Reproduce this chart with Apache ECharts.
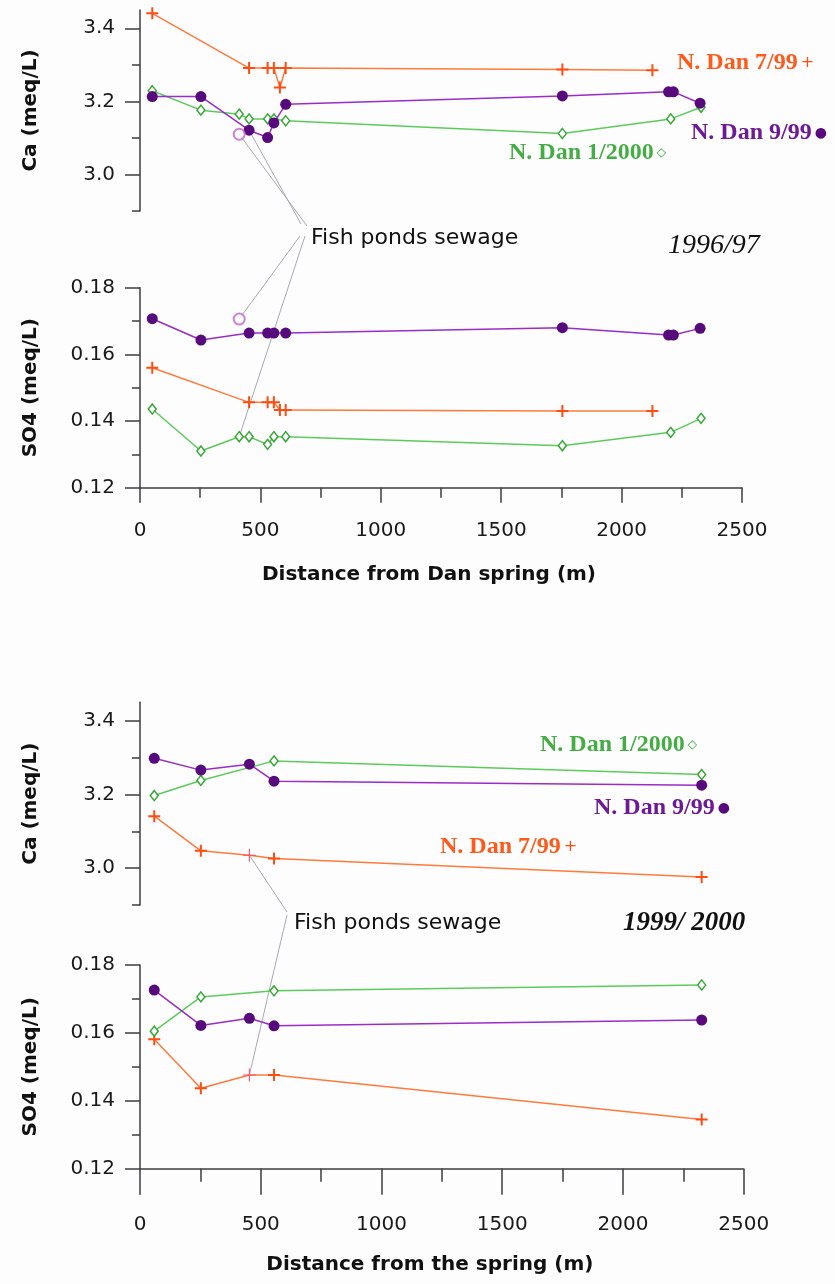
<!DOCTYPE html>
<html>
<head>
<meta charset="utf-8">
<script src="https://cdn.jsdelivr.net/npm/echarts@6/dist/echarts.min.js"></script>
<style>
  html, body { margin: 0; padding: 0; background: #fdfdfd; }
  #chart { width: 835px; height: 1284px; }
</style>
</head>
<body>
<div id="chart"></div>
<script>
// ---- 1996/97 survey (distance from Dan spring, m) ----
const dist97Jul = [51, 453, 530, 556, 581, 605, 1754, 2128];
const ca97Jul   = [3.441, 3.291, 3.291, 3.291, 3.238, 3.291, 3.287, 3.285];
const so97Jul   = [0.156, 0.1456, 0.1456, 0.1456, 0.1433, 0.1433, 0.143, 0.143];

const dist97Sep = [51, 253, 453, 530, 556, 605, 1754, 2195, 2215, 2326];
const ca97Sep   = [3.213, 3.213, 3.121, 3.101, 3.141, 3.192, 3.215, 3.226, 3.226, 3.195];
const so97Sep   = [0.1707, 0.1643, 0.1664, 0.1664, 0.1664, 0.1664, 0.168, 0.1658, 0.1658, 0.1678];

const dist97Jan = [51, 253, 412, 453, 530, 556, 605, 1754, 2204, 2330];
const ca97Jan   = [3.229, 3.176, 3.165, 3.152, 3.152, 3.152, 3.147, 3.112, 3.152, 3.184];
const so97Jan   = [0.1436, 0.131, 0.1353, 0.1353, 0.133, 0.1353, 0.1353, 0.1326, 0.1366, 0.1408];

// fish ponds sewage sample, 1996/97
const distPond97 = [412];
const caPond97   = [3.110];
const soPond97   = [0.1706];

// ---- 1999/2000 survey (distance from the spring, m) ----
const dist00Jul = [59, 252, 453, 555, 2326];
const ca00Jul   = [3.141, 3.047, 3.035, 3.026, 2.976];
const so00Jul   = [0.1581, 0.1437, 0.1476, 0.1476, 0.1345];
const pondIdx00 = [2]; // sewage sample inside the 7/99 profile

const dist00Sep = [59, 252, 453, 555, 2326];
const ca00Sep   = [3.298, 3.266, 3.282, 3.236, 3.225];
const so00Sep   = [0.1726, 0.1622, 0.1643, 0.1621, 0.1638];

const dist00Jan = [59, 252, 555, 2326];
const ca00Jan   = [3.197, 3.238, 3.291, 3.254];
const so00Jan   = [0.1605, 0.1706, 0.1724, 0.1741];

// axis ticks
const caMajor = [3.0, 3.2, 3.4];
const caMinor = [2.9, 3.1, 3.3];

// ---- styling ----
const SANS = 'DejaVu Sans';
const SERIF = 'Liberation Serif';
const AXIS = '#3c3c40';
const C_OR_LINE = '#ff7a3c', C_OR = '#ff4d12', C_OR_TXT = '#ff5a1c';
const C_PU_LINE = '#9a2cc8', C_PU = '#560a7c', C_PU_TXT = '#6e1a96';
const C_GR_LINE = '#5ccb5c', C_GR = '#38a838', C_GR_TXT = '#44ad44';
const PLUS = 'path://M-1,-6L1,-6L1,-1L6,-1L6,1L1,1L1,6L-1,6L-1,1L-6,1L-6,-1L-1,-1Z';
const PLUS_THIN = 'path://M-0.5,-6L0.5,-6L0.5,-0.5L6,-0.5L6,0.5L0.5,0.5L0.5,6L-0.5,6L-0.5,0.5L-6,0.5L-6,-0.5L-0.5,-0.5Z';

const zip = (xs, ys) => xs.map((x, i) => [x, ys[i]]);

const grids = [
  { left: 140, top: 10, width: 602, height: 201 },
  { left: 140, top: 287.7, width: 602, height: 200 },
  { left: 140, top: 702.3, width: 603.7, height: 202.7 },
  { left: 140, top: 965, width: 603.7, height: 203.7 }
];

function distAxis(gridIndex, show, name, majorLen, minorLen, labelMargin, nameGap) {
  return {
    type: 'value', gridIndex, min: 0, max: 2500, interval: 500, show,
    name, nameLocation: 'middle', nameGap,
    nameTextStyle: { fontFamily: SANS, fontWeight: 'bold', fontSize: 20, color: '#111', padding: [0, 24, 0, 0] },
    axisLine: { show: true, lineStyle: { color: AXIS, width: 1.5 } },
    axisTick: { show: true, length: majorLen, lineStyle: { color: AXIS, width: 1.5 } },
    minorTick: { show: true, splitNumber: 2, length: minorLen, lineStyle: { color: AXIS, width: 1.5 } },
    axisLabel: { formatter: v => String(v), fontFamily: SANS, fontSize: 20, color: '#1a1a1a', margin: labelMargin },
    splitLine: { show: false }
  };
}

function caAxes(gridIndex) {
  return [
    {
      type: 'value', gridIndex, position: 'left', min: 2.9, max: 3.45,
      name: 'Ca (meq/L)', nameLocation: 'middle', nameGap: 99,
      nameTextStyle: { fontFamily: SANS, fontWeight: 'bold', fontSize: 20, color: '#111' },
      axisLine: { show: true, lineStyle: { color: AXIS, width: 1.5 } },
      axisTick: { show: true, length: 15, customValues: caMajor, lineStyle: { color: AXIS, width: 1.5 } },
      axisLabel: { customValues: caMajor, formatter: v => v.toFixed(1), fontFamily: SANS, fontSize: 20, color: '#1a1a1a', margin: 25 },
      splitLine: { show: false }
    },
    {
      type: 'value', gridIndex, position: 'left', offset: 0, min: 2.9, max: 3.45,
      axisLine: { show: false },
      axisTick: { show: true, length: 8, customValues: caMinor, lineStyle: { color: AXIS, width: 1.5 } },
      axisLabel: { show: false },
      splitLine: { show: false }
    }
  ];
}

function so4Axis(gridIndex) {
  return {
    type: 'value', gridIndex, position: 'left', min: 0.12, max: 0.18, interval: 0.02,
    name: 'SO4 (meq/L)', nameLocation: 'middle', nameGap: 99,
    nameTextStyle: { fontFamily: SANS, fontWeight: 'bold', fontSize: 20, color: '#111' },
    axisLine: { show: true, lineStyle: { color: AXIS, width: 1.5 } },
    axisTick: { show: true, length: 15, lineStyle: { color: AXIS, width: 1.5 } },
    minorTick: { show: true, splitNumber: 2, length: 8, lineStyle: { color: AXIS, width: 1.5 } },
    axisLabel: { formatter: v => v.toFixed(2), fontFamily: SANS, fontSize: 20, color: '#1a1a1a', margin: 25 },
    splitLine: { show: false }
  };
}

function orange(xi, yi, data) {
  return { type: 'line', xAxisIndex: xi, yAxisIndex: yi, data, symbol: PLUS, symbolSize: 12,
    lineStyle: { color: C_OR_LINE, width: 1.5 }, itemStyle: { color: C_OR }, z: 3, animation: false };
}
function purple(xi, yi, data) {
  return { type: 'line', xAxisIndex: xi, yAxisIndex: yi, data, symbol: 'circle', symbolSize: 11,
    lineStyle: { color: C_PU_LINE, width: 1.5 }, itemStyle: { color: C_PU }, z: 4, animation: false };
}
function green(xi, yi, data) {
  return { type: 'line', xAxisIndex: xi, yAxisIndex: yi, data, symbol: 'diamond', symbolSize: [8, 10],
    lineStyle: { color: C_GR_LINE, width: 1.5 },
    itemStyle: { color: '#ffffff', borderColor: C_GR, borderWidth: 1.5 }, z: 3, animation: false };
}
function pond(xi, yi, data) {
  return { type: 'scatter', xAxisIndex: xi, yAxisIndex: yi, data, symbol: 'emptyCircle', symbolSize: 11,
    itemStyle: { color: '#c462cc', borderWidth: 1 }, z: 5, animation: false };
}

// 7/99 profile of 1999/2000 with the sewage sample drawn as a thin mark
function jul00(values) {
  return dist00Jul.map((x, i) => pondIdx00.includes(i)
    ? { value: [x, values[i]], symbol: PLUS_THIN, symbolSize: 13, itemStyle: { color: '#ff4f6a' } }
    : [x, values[i]]);
}

const series = [
  orange(0, 0, zip(dist97Jul, ca97Jul)),      // 0
  purple(0, 0, zip(dist97Sep, ca97Sep)),      // 1
  green(0, 0, zip(dist97Jan, ca97Jan)),       // 2
  pond(0, 0, zip(distPond97, caPond97)),      // 3
  orange(1, 2, zip(dist97Jul, so97Jul)),      // 4
  purple(1, 2, zip(dist97Sep, so97Sep)),      // 5
  green(1, 2, zip(dist97Jan, so97Jan)),       // 6
  pond(1, 2, zip(distPond97, soPond97)),      // 7
  orange(2, 3, jul00(ca00Jul)),               // 8
  purple(2, 3, zip(dist00Sep, ca00Sep)),      // 9
  green(2, 3, zip(dist00Jan, ca00Jan)),       // 10
  orange(3, 5, jul00(so00Jul)),               // 11
  purple(3, 5, zip(dist00Sep, so00Sep)),      // 12
  green(3, 5, zip(dist00Jan, so00Jan))        // 13
];

function tag(x, y, label, mark, color, markColor, markSize) {
  return {
    type: 'text', x, y, z: 10,
    style: {
      text: '{a|' + label + '}{m|' + mark + '}',
      verticalAlign: 'middle',
      rich: {
        a: { fontFamily: SERIF, fontWeight: 'bold', fontSize: 24, fill: color },
        m: { fontFamily: SANS, fontSize: markSize, fill: markColor, padding: [0, 0, 0, 3] }
      }
    }
  };
}
function plainText(x, y, text, font) {
  return { type: 'text', x, y, z: 10, style: Object.assign({ text, verticalAlign: 'middle', fill: '#111' }, font) };
}

const texts = [
  tag(677, 63, 'N. Dan 7/99', '+', C_OR_TXT, C_OR, 16),
  tag(691, 133, 'N. Dan 9/99', '●', C_PU_TXT, C_PU, 14),
  tag(509, 153, 'N. Dan 1/2000', '◇', C_GR_TXT, C_GR, 12),
  plainText(668, 246, '1996/97', { fontFamily: SERIF, fontStyle: 'italic', fontSize: 28 }),
  plainText(311, 238, 'Fish ponds sewage', { fontFamily: SANS, fontSize: 22 }),
  tag(540, 745, 'N. Dan 1/2000', '◇', C_GR_TXT, C_GR, 12),
  tag(594, 808, 'N. Dan 9/99', '●', C_PU_TXT, C_PU, 14),
  tag(440, 847, 'N. Dan 7/99', '+', C_OR_TXT, C_OR, 16),
  plainText(623, 923, '1999/ 2000', { fontFamily: SERIF, fontStyle: 'italic', fontWeight: 'bold', fontSize: 27 }),
  plainText(294, 923, 'Fish ponds sewage', { fontFamily: SANS, fontSize: 22 })
];

const chart = echarts.init(document.getElementById('chart'), null, { renderer: 'canvas' });
chart.setOption({
  backgroundColor: '#fdfdfd',
  animation: false,
  grid: grids,
  xAxis: [
    distAxis(0, false, '', 15, 10, 33, 77),
    distAxis(1, true, 'Distance from Dan spring (m)', 15, 10, 33, 77),
    distAxis(2, false, '', 26, 13, 46, 86),
    distAxis(3, true, 'Distance from the spring (m)', 26, 13, 46, 86)
  ],
  yAxis: [].concat(caAxes(0), [so4Axis(1)], caAxes(2), [so4Axis(3)]),
  series,
  graphic: texts
});

// leader lines from the "Fish ponds sewage" notes to the sewage samples
function px(seriesIndex, pt) { return chart.convertToPixel({ seriesIndex }, pt); }
const leaders = [
  [[307, 226], px(3, [distPond97[0], caPond97[0]])],
  [[301, 224], px(1, [dist97Sep[2], ca97Sep[2]])],
  [[300, 236], px(7, [distPond97[0], soPond97[0]])],
  [[305, 236], px(6, [dist97Jan[2], so97Jan[2]])],
  [[287, 912], px(8, [dist00Jul[pondIdx00[0]], ca00Jul[pondIdx00[0]]])],
  [[287, 915], px(11, [dist00Jul[pondIdx00[0]], so00Jul[pondIdx00[0]]])]
].map(([a, b]) => ({
  type: 'line', z: 1,
  shape: { x1: a[0], y1: a[1], x2: b[0], y2: b[1] },
  style: { stroke: '#a9a9b4', lineWidth: 1 }
}));
chart.setOption({ graphic: texts.concat(leaders) });
</script>
</body>
</html>
